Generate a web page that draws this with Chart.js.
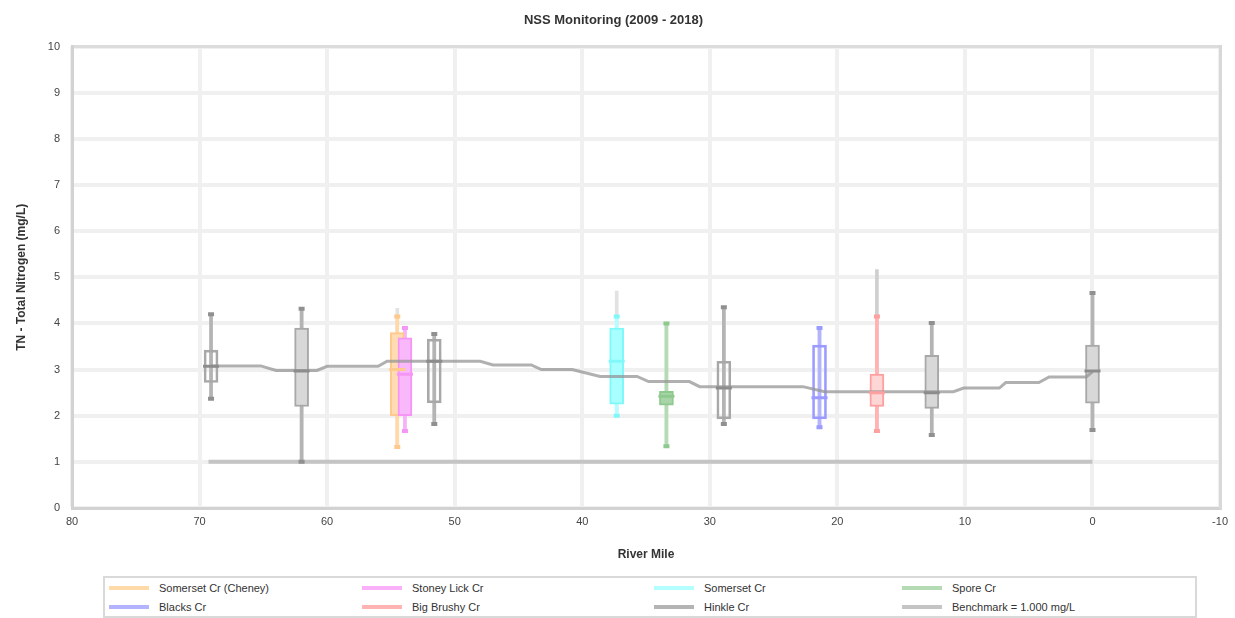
<!DOCTYPE html>
<html>
<head>
<meta charset="utf-8">
<script src="https://cdn.jsdelivr.net/npm/chart.js@4.4.1/dist/chart.umd.min.js"></script>
<style>
  body { margin: 0; background: #fff; font-family: "Liberation Sans", Arial, sans-serif; }
  #wrap { position: relative; width: 1235px; height: 618px; }
  #chartBox { position: absolute; left: 0; top: 0; width: 1235px; height: 575px; }
  #legend {
    position: absolute; left: 103px; top: 576px; width: 1090px; height: 38px;
    border: 2px solid #d9d9d9; display: grid;
    grid-template-columns: 253px 292px 248px 297px; grid-template-rows: 19px 19px;
    font-size: 11px; color: #333;
  }
  .item { display: flex; align-items: center; white-space: nowrap; }
  .swatch { width: 40px; height: 4px; margin: 0 10px 0 4px; }
</style>
</head>
<body>
<div id="wrap">
  <div id="chartBox"><canvas id="chart"></canvas></div>
  <div id="legend"></div>
</div>
<script>
// Sites (box plots)
const siteMiles   = [69.1, 62.0, 54.5, 53.9, 51.6, 37.3, 33.4, 28.9, 21.4, 16.9, 12.6, 0.0];
const siteGroups  = ['Hinkle Cr', 'Hinkle Cr', 'Somerset Cr (Cheney)', 'Stoney Lick Cr', 'Hinkle Cr',
                     'Somerset Cr', 'Spore Cr', 'Hinkle Cr', 'Blacks Cr', 'Big Brushy Cr', 'Hinkle Cr', 'Hinkle Cr'];
const siteMax     = [4.20, 4.32, 4.33, 3.90, 3.77, 4.70, 4.00, 4.35, 3.90, 5.17, 4.01, 4.66];
const whiskerHigh = [4.20, 4.32, 4.15, 3.90, 3.77, 4.15, 4.00, 4.35, 3.90, 4.15, 4.01, 4.66];
const q3          = [3.42, 3.90, 3.80, 3.69, 3.66, 3.90, 2.53, 3.18, 3.53, 2.90, 3.31, 3.53];
const medians     = [3.07, 2.97, 3.00, 2.90, 3.18, 3.18, 2.42, 2.60, 2.39, 2.50, 2.50, 2.97];
const q1          = [2.72, 2.20, 2.00, 2.00, 2.28, 2.25, 2.23, 1.93, 1.93, 2.20, 2.16, 2.27];
const whiskerLow  = [2.37, 1.00, 1.32, 1.67, 1.82, 2.00, 1.34, 1.82, 1.75, 1.67, 1.58, 1.69];
const filledBox   = [false, true, true, true, false, true, true, false, false, true, true, true];

// Mainstem trend line
const trendMiles  = [69.1, 65.2, 64.0, 60.8, 60.0, 56.0, 55.3, 48.0, 47.0, 44.0, 43.2, 40.8, 38.6,
                     35.7, 34.8, 31.6, 30.8, 22.7, 21.0, 10.9, 10.1, 7.3, 6.8, 4.2, 3.4, 0.5, 0.0];
const trendValues = [3.08, 3.08, 2.98, 2.98, 3.07, 3.07, 3.18, 3.18, 3.10, 3.10, 3.00, 3.00, 2.85,
                     2.85, 2.74, 2.74, 2.63, 2.63, 2.52, 2.52, 2.60, 2.60, 2.72, 2.72, 2.84, 2.84, 2.95];

const benchmarkMiles  = [69.3, 0.0];
const benchmarkValues = [1.0, 1.0];

const legendLabels = ['Somerset Cr (Cheney)', 'Stoney Lick Cr', 'Somerset Cr', 'Spore Cr',
                      'Blacks Cr', 'Big Brushy Cr', 'Hinkle Cr', 'Benchmark = 1.000 mg/L'];

const xTicks = [80, 70, 60, 50, 40, 30, 20, 10, 0, -10];
const yTicks = [0, 1, 2, 3, 4, 5, 6, 7, 8, 9, 10];

// Styles per group: [line / whisker, box fill, box edge]
const groupStyle = {
    'Somerset Cr (Cheney)': ['#ffd9a8', '#ffdcb2', '#ffc88c'],
    'Stoney Lick Cr':       ['#f9b0f9', '#f9b8f9', '#f595f5'],
    'Somerset Cr':          ['#b3ffff', '#a8ffff', '#80f8f8'],
    'Spore Cr':             ['#b5dbb5', '#a8d4a8', '#8ec98e'],
    'Blacks Cr':            ['#b3b3ff', '#b3b3ff', '#9a9aff'],
    'Big Brushy Cr':        ['#ffb3b3', '#ffd6d6', '#ffa0a0'],
    'Hinkle Cr':            ['#b4b4b4', '#d8d8d8', '#a8a8a8'],
    'Benchmark = 1.000 mg/L': ['#c4c4c4']
};

const textColor = '#444';
const font = 'Liberation Sans, Arial, sans-serif';

const pts = (vals) => siteMiles.map((m, i) => ({ x: m, y: vals[i] }));
const range = (lo, hi) => siteMiles.map((m, i) => ({ x: m, y: [lo[i], hi[i]] }));
const styleOf = (k) => siteGroups.map(g => groupStyle[g][k]);

const datasets = [
    {   // full range (light gray extension above whisker)
        type: 'bar', data: range(whiskerLow, siteMax), grouped: false, barThickness: 3,
        backgroundColor: siteGroups.map(g => g === 'Big Brushy Cr' ? '#cfcfcf' : '#e2e2e2'), order: 6
    },
    {   // whiskers
        type: 'bar', data: range(whiskerLow, whiskerHigh), grouped: false, barThickness: 3,
        backgroundColor: styleOf(0), order: 5
    },
    {   // boxes
        type: 'bar', data: range(q1, q3), grouped: false, barThickness: 14,
        backgroundColor: siteGroups.map((g, i) => filledBox[i] ? groupStyle[g][1] : 'rgba(0,0,0,0)'),
        borderColor: styleOf(2), borderWidth: 2, borderSkipped: false, order: 4
    },
    {   // whisker caps
        type: 'scatter', data: pts(whiskerLow).concat(pts(whiskerHigh)),
        pointStyle: 'line', radius: 3, borderWidth: 4,
        borderColor: styleOf(2).concat(styleOf(2)).map(c => c === '#a8a8a8' ? '#909090' : c), order: 3
    },
    {   // trend line
        type: 'line', data: trendMiles.map((m, i) => ({ x: m, y: trendValues[i] })),
        borderColor: 'rgba(150,150,150,0.75)', borderWidth: 3, pointRadius: 0, tension: 0, order: 2
    },
    {   // benchmark
        type: 'line', data: benchmarkMiles.map((m, i) => ({ x: m, y: benchmarkValues[i] })),
        borderColor: groupStyle['Benchmark = 1.000 mg/L'][0], borderWidth: 4, pointRadius: 0, order: 7
    },
    {   // medians
        type: 'scatter', data: pts(medians), pointStyle: 'line', radius: 8, borderWidth: 3,
        borderColor: styleOf(2).map(c => c === '#a8a8a8' ? '#8c8c8c' : c), order: 1
    }
];

new Chart(document.getElementById('chart'), {
    type: 'bar',
    data: { datasets: datasets },
    options: {
        responsive: true,
        maintainAspectRatio: false,
        animation: false,
        layout: { padding: { top: 0, right: 8, left: 0, bottom: 0 } },
        plugins: {
            legend: { display: false },
            tooltip: { enabled: false },
            title: {
                display: true, text: 'NSS Monitoring (2009 - 2018)', color: '#333',
                font: { family: font, size: 13, weight: 'bold' },
                padding: { top: 13, bottom: 18 }
            }
        },
        scales: {
            x: {
                type: 'linear', reverse: true, min: -10, max: 80, offset: false,
                afterFit: (s) => { s.height = 67; },
                afterBuildTicks: (s) => { s.ticks = xTicks.map(v => ({ value: v })); },
                ticks: { color: textColor, font: { family: font, size: 11 }, padding: 7 },
                grid: { color: '#f0f0f0', lineWidth: 4, drawTicks: false, offset: false },
                border: { display: true, color: '#d2d2d2', width: 3 },
                title: {
                    display: true, text: 'River Mile', color: '#333',
                    font: { family: font, size: 12, weight: 'bold' }, padding: { top: 4, bottom: 13 }
                }
            },
            xTop: {
                type: 'linear', position: 'top', reverse: true, min: -10, max: 80,
                afterFit: (s) => { s.height = 0; },
                ticks: { display: false, stepSize: 2 },
                grid: { drawOnChartArea: false, drawTicks: false },
                border: { display: true, color: '#dcdcdc', width: 3 }
            },
            y: {
                type: 'linear', min: 0, max: 10,
                afterFit: (s) => { s.width = 72; },
                afterBuildTicks: (s) => { s.ticks = yTicks.map(v => ({ value: v })); },
                ticks: { color: textColor, font: { family: font, size: 11 }, padding: 12 },
                grid: { color: '#f0f0f0', lineWidth: 4, drawTicks: false },
                border: { display: true, color: '#d2d2d2', width: 3 },
                title: {
                    display: true, text: 'TN - Total Nitrogen (mg/L)', color: '#333',
                    font: { family: font, size: 12, weight: 'bold' }, padding: { top: 14 }
                }
            },
            yRight: {
                type: 'linear', position: 'right', min: 0, max: 10,
                afterFit: (s) => { s.width = 0; },
                ticks: { display: false },
                grid: { drawOnChartArea: false, drawTicks: false },
                border: { display: true, color: '#d8d8d8', width: 3 }
            }
        }
    }
});

// HTML legend
const legendEl = document.getElementById('legend');
legendLabels.forEach(label => {
    const item = document.createElement('div');
    item.className = 'item';
    item.innerHTML = `<span class="swatch" style="background:${groupStyle[label][0]}"></span>${label}`;
    legendEl.appendChild(item);
});
</script>
</body>
</html>
